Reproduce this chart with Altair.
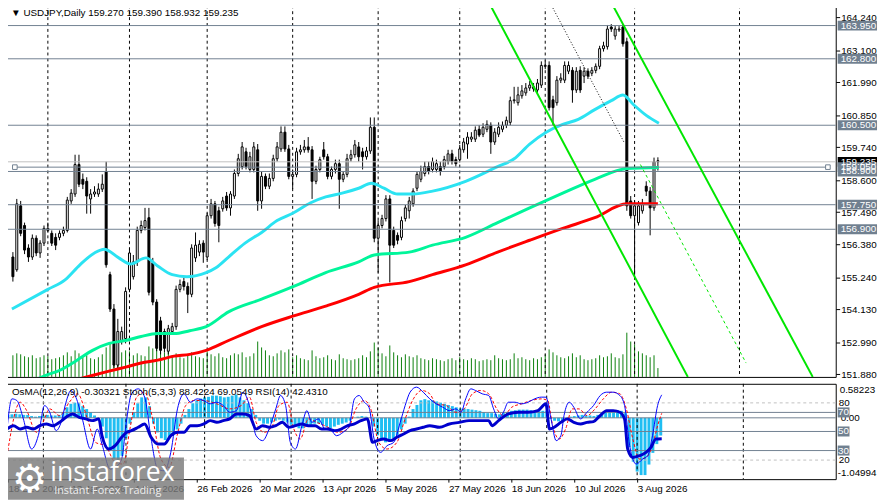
import json
import altair as alt
import pandas as pd

FONT = "Liberation Sans"
W, H1, H2 = 843, 378, 97
SLATE = "#708090"
LIGHT = "#C0C0C0"
CYAN = "#2BE3F2"
SPRING = "#00F59A"
RED = "#FF0000"
LIME = "#00E600"
VOLC = "#0A800A"
HIST = "#1FBEF2"

# ---------------- data ----------------
date_labels = ["18 Dec 2025", "13 Jan 2026", "4 Feb 2026", "26 Feb 2026", "20 Mar 2026",
               "13 Apr 2026", "5 May 2026", "27 May 2026", "18 Jun 2026", "10 Jul 2026", "3 Aug 2026"]
date_label_bars = [0, 16, 32, 48, 64, 80, 96, 112, 128, 144, 160]
grid_bars = [9, 30, 50, 72, 94, 115, 137, 160, 187]

price_ticks = [164.240, 163.100, 161.990, 160.850, 159.740, 158.600, 157.490,
               156.380, 155.240, 154.130, 152.990, 151.880]
level_prices = [163.950, 162.800, 160.500, 158.900, 157.750, 156.900]
trend_level = 159.050
bid_price = 159.235

opens = [155.94,155.50,157.71,157.03,156.25,155.94,156.59,156.08,156.42,156.86,
         156.76,156.62,156.62,156.76,156.86,157.88,158.12,159.14,158.63,158.56,
         157.95,158.12,158.12,158.29,158.90,155.33,154.14,152.20,153.05,153.12,
         154.82,155.26,155.77,156.86,156.96,157.30,155.74,154.38,153.73,153.36,
         152.68,153.36,153.53,154.82,155.09,154.92,154.65,155.91,156.11,156.42,
         155.94,157.37,157.78,157.54,157.61,158.05,157.64,158.05,158.83,159.07,
         159.58,158.97,158.97,159.65,157.88,158.73,158.39,158.66,159.34,159.68,
         160.26,159.68,158.73,158.80,159.58,159.65,159.75,159.65,158.56,158.97,
         159.65,159.41,158.73,158.97,159.17,158.63,158.80,159.34,159.48,159.75,
         159.58,159.41,159.61,160.43,156.59,157.03,157.27,157.95,156.86,156.69,
         156.62,157.27,157.54,157.78,158.32,158.63,158.83,159.07,158.97,158.97,
         159.07,159.07,159.24,159.51,159.31,159.31,159.65,159.85,160.02,160.02,
         160.36,160.19,160.36,160.50,159.92,160.19,160.36,160.50,160.60,161.35,
         161.28,161.52,161.62,161.79,161.76,161.72,161.89,162.54,162.57,161.38,
         161.28,162.06,162.06,162.37,162.40,161.72,162.40,162.20,162.37,162.30,
         162.40,162.54,163.15,163.22,163.90,163.59,163.80,163.90,163.39,157.88,
         157.37,157.13,157.54,158.39,158.22,157.64,159.270]
highs = [156.11,157.95,157.88,157.13,156.38,156.72,156.69,156.52,157.03,157.13,
         156.86,156.76,156.86,156.99,158.02,158.29,159.48,159.48,158.83,158.70,
         158.29,158.39,158.49,158.80,159.24,155.43,154.31,153.80,153.53,154.89,
         156.25,156.01,156.99,157.20,157.64,157.64,155.91,154.48,153.87,153.46,
         153.59,153.66,154.95,155.16,155.23,155.06,156.38,156.79,156.52,156.52,
         157.47,157.95,157.88,157.68,158.02,158.19,158.22,158.97,159.51,159.92,
         159.72,159.58,159.92,159.85,158.90,158.83,158.83,159.48,159.92,160.46,
         160.46,159.82,158.97,159.72,159.82,159.99,160.09,159.78,159.10,159.41,
         159.92,159.51,159.07,159.31,159.31,158.90,159.51,159.65,159.99,159.92,
         159.72,159.75,160.77,160.77,157.20,157.40,158.08,158.08,156.99,156.79,
         157.34,157.74,158.02,158.32,158.90,159.10,159.24,159.24,159.38,159.31,
         159.24,159.44,159.65,159.65,159.41,159.82,160.06,160.26,160.26,160.46,
         160.50,160.57,160.67,160.60,160.40,160.60,160.63,160.80,161.49,161.83,
         161.83,161.89,161.96,162.03,161.96,162.10,162.71,162.74,162.71,161.52,
         162.20,162.30,162.71,162.71,162.51,162.51,162.54,162.51,162.47,162.51,
         162.64,163.25,163.39,163.97,164.00,163.93,163.93,164.00,163.53,158.05,
         157.88,157.88,157.95,158.56,158.36,159.38,159.390]
lows = [155.09,155.43,156.66,156.04,155.77,155.84,155.97,155.91,156.32,156.79,
        156.32,156.18,156.52,156.66,156.79,157.78,158.02,158.36,158.29,157.44,
        157.44,158.02,158.02,158.19,155.57,154.04,152.10,152.03,152.91,152.95,
        154.72,155.16,155.63,156.76,156.86,154.61,154.27,152.68,152.57,152.64,
        152.57,153.25,153.42,154.72,154.78,154.00,154.55,155.77,155.97,155.74,
        155.84,157.27,156.99,156.45,157.51,157.54,157.37,157.95,158.73,158.97,
        158.97,158.87,158.87,157.54,157.61,158.29,158.29,158.56,159.24,159.58,
        159.58,158.63,158.29,158.70,159.48,159.55,159.55,157.95,158.46,158.87,
        159.31,158.63,158.63,158.83,157.61,158.53,158.70,159.24,159.38,159.24,
        158.97,159.31,159.51,156.45,155.40,156.93,157.17,155.06,156.25,156.38,
        156.52,157.17,157.27,157.68,158.22,158.53,158.73,158.80,158.87,158.87,
        158.76,158.97,159.14,159.14,159.07,159.21,159.55,159.34,159.92,159.92,
        160.09,160.09,160.26,159.51,159.82,160.09,160.26,160.40,160.50,161.25,
        161.18,161.42,161.52,161.69,161.66,161.62,161.79,162.44,161.01,160.50,
        161.18,161.96,161.96,162.27,161.28,161.62,161.62,161.96,162.10,162.20,
        162.30,162.44,163.05,163.12,163.73,163.46,163.73,163.22,157.54,157.27,
        155.16,157.03,157.44,158.05,156.69,157.54,158.932]
closes = [155.26,157.78,156.76,156.18,155.94,156.59,156.08,156.42,156.93,156.93,
          156.42,156.35,156.76,156.86,157.91,158.15,159.14,158.46,158.46,158.05,
          158.12,158.19,158.29,158.46,155.67,154.14,152.20,153.36,153.36,154.75,
          156.08,155.77,156.86,157.03,157.20,154.72,154.38,152.78,152.71,152.78,
          153.46,153.53,154.82,154.99,154.92,154.65,156.25,156.35,156.38,156.11,
          157.37,157.78,157.10,157.03,157.88,157.64,158.12,158.83,159.34,159.75,
          159.07,159.41,159.75,157.88,158.73,158.39,158.66,159.34,159.75,160.26,
          159.68,158.73,158.80,159.58,159.65,159.75,159.65,158.56,158.97,159.31,
          159.41,158.73,158.97,159.17,158.63,158.80,159.34,159.48,159.82,159.41,
          159.41,159.61,160.43,156.59,157.03,157.27,157.95,156.35,156.35,156.52,
          157.20,157.64,157.88,158.22,158.80,158.90,159.07,158.90,159.24,159.17,
          158.90,159.31,159.51,159.24,159.17,159.68,159.92,160.09,160.09,160.33,
          160.16,160.43,160.53,159.92,160.26,160.43,160.50,160.67,161.35,161.38,
          161.55,161.69,161.79,161.89,161.83,161.96,162.57,162.57,161.11,161.11,
          162.06,162.13,162.57,162.57,161.72,162.37,161.72,162.37,162.20,162.40,
          162.54,163.15,163.25,163.83,163.83,163.83,163.83,163.32,157.71,157.37,
          157.71,157.71,157.78,158.22,157.64,159.24,159.235]
volumes = [22,24,23,21,20,22,19,20,22,21,
           18,19,20,22,25,21,27,24,20,22,
           19,18,20,23,30,34,36,30,25,27,
           26,22,24,22,21,31,29,30,27,25,
           26,22,24,20,19,22,25,21,20,19,
           26,23,21,24,20,19,22,24,23,25,
           20,21,24,36,30,27,22,21,24,27,
           25,28,20,22,19,18,17,27,21,19,
           20,22,18,17,23,19,18,17,18,19,
           22,20,26,35,30,24,21,32,25,22,
           20,23,21,20,22,19,18,17,19,18,
           17,16,18,19,17,20,18,17,19,18,
           16,17,18,17,22,19,18,17,18,24,
           19,20,18,17,19,18,20,23,28,25,
           22,20,19,21,24,20,22,18,17,18,
           19,22,20,21,24,20,19,23,45,36,
           33,26,24,22,20,22,9]
osma = [0.05,0.06,0.07,0.06,0.05,0.05,
        0.03,0.02,
        0.03,0.04,0.05,0.04,0.04,0.05,
        0.10,0.18,0.24,0.26,0.25,0.20,0.15,0.10,
        0.04,-0.04,
        -0.15,-0.35,-0.55,-0.70,-0.75,-0.65,
        -0.35,-0.10,
        0.10,0.25,0.35,0.35,0.20,
        -0.10,-0.25,-0.35,-0.38,-0.35,-0.30,
        -0.20,-0.10,
        0.05,0.15,0.25,0.30,0.33,0.35,0.36,0.38,0.38,0.37,0.35,0.36,0.38,0.40,0.35,
        0.30,0.25,0.15,0.05,
        -0.05,-0.10,-0.10,-0.08,-0.05,-0.03,-0.05,-0.08,
        -0.12,-0.15,-0.18,-0.18,-0.15,-0.12,-0.10,-0.10,-0.12,-0.15,-0.18,-0.15,-0.12,-0.10,-0.08,-0.05,
        0.00,0.02,0.03,0.02,0.00,
        -0.15,-0.30,-0.38,-0.42,-0.40,-0.35,-0.30,
        -0.20,-0.10,0.02,
        0.15,0.22,0.30,0.32,0.30,
        0.30,0.28,0.26,0.24,0.22,0.20,0.18,
        0.16,0.16,0.15,0.14,0.13,0.12,0.10,
        0.08,0.08,0.07,0.06,0.08,0.10,0.12,
        0.13,0.14,0.14,0.14,0.13,0.12,0.12,0.12,0.12,
        -0.02,-0.05,-0.06,-0.05,-0.03,
        0.02,0.03,0.04,0.05,0.04,0.04,0.03,0.05,
        0.08,0.10,0.12,0.13,0.13,
        0.12,0.08,
        -0.50,-0.75,-0.92,-0.98,-0.98,-0.80,-0.60,-0.45,-0.30321]

cyan_i = [-0.25,9,13.5,17.25,21,23.5,27.25,30.25,34.25,37.25,
          41,44.75,49.75,52.25,55.5,59.75,64,68,72.25,76.5,
          80.5,84.75,89,92.25,95.5,99,103,108,116.5,124.75,
          129,133,137.25,141.5,145.5,149.75,154,157,159.75,163,166.25]
cyan_p = [154.14,154.82,155.16,155.67,156.08,156.21,155.91,155.70,155.91,155.63,
          155.33,155.26,155.40,155.57,155.94,156.42,156.79,157.20,157.47,157.81,
          158.02,158.15,158.32,158.49,158.32,158.12,158.12,158.22,158.56,159.07,
          159.34,159.85,160.26,160.53,160.70,161.04,161.35,161.55,161.21,160.84,160.57]
spring_i = [6,8,12.25,16.5,20.5,24.75,29,33,37.25,41.5,
            45.5,49.75,55.5,64,72.25,80.5,89,93,102,108,
            116.5,124.75,133,141.5,149.75,158,166.25]
spring_p = [151.70,151.82,152.03,152.37,152.71,152.95,153.05,153.19,153.29,153.29,
            153.39,153.53,154.04,154.48,154.92,155.40,155.77,156.01,156.11,156.35,
            156.62,157.13,157.64,158.15,158.63,159.00,159.04]
red_i = [17,19,24.75,29,33,37.25,41.5,45.5,49.75,55.5,
         64,72.25,80.5,89,93,102,108,116.5,124.75,133,
         141.5,149.75,158,166]
red_p = [151.72,151.79,151.99,152.13,152.27,152.37,152.51,152.57,152.71,153.05,
         153.53,153.90,154.24,154.65,154.89,155.09,155.33,155.67,156.11,156.52,
         156.93,157.30,157.78,157.78]

channel_seg = ["A", "A", "B", "B"]
channel_i = [122.9, 173.7, 154.4, 205.85]
channel_p = [164.65, 151.79, 164.65, 151.79]
mid_dotted_i = [138.6, 157.25]
mid_dotted_p = [164.65, 159.92]
mid_dashed_i = [161.5, 188.7]
mid_dashed_p = [159.14, 152.27]

sm_i = [-0.25,1,2.25,3.9,6,7.7,9.3,10.6,12.25,13.5,
        14.75,16,17.25,18.9,21,22.7,23.9,26,27.25,28.9,
        30.2,31.4,33.1,34.75,36.4,38.1,39.75,41.4,43.1,44.75,
        46.4,48.1,49.75,51.4,53.1,54.75,56.4,58.1,59.75,61.4,
        63.1,64.75,66.4,68.1,69.3,70.6,71.8,73.1,74.75,76,
        77.25,78.9,80.6,82.25,83.5,85.2,86.8,88.1,89.3,90.6,
        91.8,93.1,94.75,96.4,98.1,99.75,101,102.25,103.9,105.6,
        107.25,108.9,110.6,112.25,113.9,115.2,116.4,117.7,118.9,120.6,
        122.25,123.5,124.75,126,127.25,128.9,130.6,132.25,133.9,135.6,
        136.8,138.1,139.4,140.6,141.4,142.75,143.9,145.6,147.25,148.9,
        150.6,152.25,153.9,155.6,156.8,158.1,159.75,161.4,162.7,163.9,
        165.2,166.25]
sm_v = [52.6,84.2,82.5,63.2,31.6,45.6,77.2,70.2,50.9,59.6,
        80.7,93.0,86.0,63.2,31.6,52.6,36.8,10.5,12.3,21.1,
        63.2,89.5,94.7,86.0,42.1,10.5,8.8,28.1,73.7,89.5,
        80.7,84.2,82.5,79.0,80.7,77.2,70.2,71.9,91.2,77.2,
        45.6,40.4,52.6,73.7,87.7,77.2,38.6,31.6,56.1,71.9,
        59.6,63.2,52.6,50.9,45.6,49.1,56.1,84.2,87.7,80.7,
        75.4,42.1,28.1,35.1,38.6,59.6,77.2,91.2,96.5,91.2,
        84.2,79.0,75.4,71.9,73.7,70.2,84.2,94.7,93.0,89.5,
        87.7,73.7,63.2,70.2,80.7,80.7,79.0,80.7,84.2,86.0,
        86.0,63.2,40.4,45.6,66.7,80.7,75.4,63.2,70.2,77.2,
        87.7,91.2,91.2,87.7,77.2,35.1,15.8,21.1,24.6,45.6,
        77.2,88.4224]
ss_i = [-0.25,3.1,4.75,7.25,8.9,10.6,13.1,15.6,17.7,20.2,
        22.25,24.75,27.25,29.3,31,32.7,34.75,36.8,38.9,41,
        43.1,45.2,47.25,49.75,53.1,56.4,59.3,61.4,63.1,65.2,
        67.25,68.9,71,72.7,74.3,76.4,78.5,81.4,83.9,86.4,
        88.5,90.6,92.25,94.3,96.4,98.9,101,103.1,105.2,107.25,
        108.9,111.4,113.9,116,118.1,120.2,122.25,124.3,126,128.1,
        130.6,133.1,135.6,137.25,138.5,140.2,141.8,143.5,145.2,147.25,
        149.3,151.4,153.5,155.6,157.25,158.9,160.6,162.25,163.9,165.2,
        166.25]
ss_v = [24.6,80.7,71.9,49.1,59.6,73.7,66.7,80.7,89.5,63.2,
        38.6,35.1,17.5,15.8,52.6,86.0,91.2,63.2,21.1,12.3,
        47.4,77.2,82.5,82.5,79.0,73.7,77.2,86.0,59.6,49.1,
        56.1,77.2,80.7,52.6,42.1,63.2,59.6,54.4,49.1,52.6,
        73.7,82.5,73.7,38.6,31.6,38.6,63.2,84.2,93.0,89.5,
        79.0,77.2,70.2,73.7,89.5,93.0,89.5,73.7,66.7,75.4,
        79.0,82.5,84.2,82.5,56.1,42.1,52.6,73.7,73.7,66.7,
        73.7,84.2,91.2,89.5,73.7,42.1,21.1,22.8,35.1,56.1,
        69.0549]
rsi_i = [-0.25,1.4,3.1,4.75,6.4,8.1,9.75,11.4,13.1,14.75,
         16.4,18.1,19.75,21.4,23.1,23.9,25.6,27.25,28.9,30.2,
         31.4,33.1,34.75,36.4,38.1,39.75,41.4,43.1,44.75,46.4,
         48.1,49.75,51.4,53.1,54.75,56.4,58.1,59.75,61.4,63.1,
         64.75,66.4,68.1,69.75,71.4,73.1,74.75,76.4,78.1,79.75,
         81.4,83.1,84.75,86.4,88.1,89.75,91.4,92.7,93.9,95.6,
         97.25,98.9,100.6,102.25,103.9,105.6,107.25,109.75,112.25,114.75,
         117.25,119.75,122.25,123.1,124.75,127.25,129.75,132.25,134.75,136.8,
         137.7,138.9,140.6,142.25,143.9,145.6,147.25,148.9,150.6,152.25,
         153.9,155.6,156.8,157.6,158.9,160.6,162.25,163.5,164.75,166.25]
rsi_v = [52.6,56.1,52.6,54.4,52.6,56.1,57.9,56.1,59.6,64.9,
         68.4,64.9,63.2,61.4,63.2,45.6,31.6,35.1,43.9,49.1,
         50.9,54.4,57.9,43.9,36.8,36.8,45.6,49.1,49.1,56.1,
         56.1,57.9,61.4,59.6,61.4,63.2,68.4,68.4,66.7,52.6,
         56.1,54.4,56.1,59.6,54.4,56.1,57.9,56.1,56.1,52.6,
         52.6,50.9,52.6,56.1,57.9,61.4,63.2,38.6,40.4,42.1,
         40.4,43.9,47.4,50.9,52.6,54.4,56.1,54.4,57.9,59.6,
         61.4,61.4,61.4,56.1,61.4,68.4,70.2,70.2,71.9,79.0,
         52.6,54.4,59.6,63.2,59.6,57.9,59.6,60.4,66.7,71.9,
         71.9,70.2,63.2,31.6,22.8,24.6,28.1,33.3,42.1,42.431]

osma_range = [-1.04994, 0.58223]
stoch_levels = [80, 20]
rsi_levels = [70, 50, 30]

# ---------------- tables ----------------
bars = pd.DataFrame({"i": list(range(len(closes))), "o": opens, "h": highs, "l": lows,
                     "c": closes, "vol": volumes, "osma": osma})

xscale = alt.Scale(domain=[-0.25, 210.5], nice=False, zero=False)
pscale = alt.Scale(domain=[151.79, 164.65], nice=False, zero=False)
oscale = alt.Scale(domain=[0, 100], nice=False, zero=False)
mscale = alt.Scale(domain=osma_range, nice=False, zero=False)


def X(f):
    return alt.X(f, type="quantitative", scale=xscale, axis=None)


def P(f):
    return alt.Y(f, type="quantitative", scale=pscale, axis=None)


def O(f):
    return alt.Y(f, type="quantitative", scale=oscale, axis=None)


def M(f):
    return alt.Y(f, type="quantitative", scale=mscale, axis=None)


BOX_WIDE = "M-1,-0.25H1V0.25H-1Z"
BOX_SMALL = "M-1,-0.85H1V0.85H-1Z"

# ---------------- main panel ----------------
vol = alt.Chart(bars).mark_rule(color=VOLC, strokeWidth=1).encode(
    x=X("i"),
    y=alt.Y("vol:Q", scale=alt.Scale(domain=[0, H1], nice=False, zero=True), axis=None),
    y2=alt.datum(0))

grid_df = pd.DataFrame({"g": grid_bars})
grid_top = alt.Chart(grid_df).mark_rule(color="black", strokeDash=[3, 3], strokeWidth=1).encode(x=X("g"))

price_axis = alt.Axis(orient="right", values=price_ticks, format=".3f", tickSize=4,
                      tickColor="black", labelColor="black", labelFont=FONT, labelFontSize=10,
                      labelPadding=1, domain=False, grid=False, title=None,
                      labelOverlap=False, labelFlush=False)

wicks = alt.Chart(bars).mark_rule(color="black", strokeWidth=1, clip=True).encode(
    x=X("i"), y=alt.Y("l:Q", scale=pscale, axis=price_axis), y2="h")
bodies = alt.Chart(bars).transform_calculate(
    dir="datum.c >= datum.o ? 'up' : 'down'"
).mark_bar(size=2, stroke="black", strokeWidth=1, clip=True).encode(
    x=X("i"), y=P("o"), y2="c",
    fill=alt.Fill("dir:N", scale=alt.Scale(domain=["up", "down"], range=["white", "black"]), legend=None))


def ma_layer(ii, pp, color):
    df = pd.DataFrame({"i": ii, "p": pp})
    return alt.Chart(df).mark_line(color=color, strokeWidth=3, interpolate="monotone", clip=True).encode(
        x=X("i"), y=P("p"))


ma_cyan = ma_layer(cyan_i, cyan_p, CYAN)
ma_spring = ma_layer(spring_i, spring_p, SPRING)
ma_red = ma_layer(red_i, red_p, RED)

levels = alt.Chart(pd.DataFrame({"p": level_prices})).mark_rule(color=SLATE, strokeWidth=1).encode(y=P("p"))
bid = alt.Chart(pd.DataFrame({"p": [bid_price]})).mark_rule(color=LIGHT, strokeWidth=1).encode(y=P("p"))
tl_df = pd.DataFrame({"a": [0.5], "b": [209.75], "p": [trend_level]})
tline = alt.Chart(tl_df).mark_rule(color=SLATE, strokeWidth=1).encode(x=X("a"), x2="b", y=P("p"))
tl_pts = alt.Chart(pd.DataFrame({"i": [0.5, 209.75], "p": [trend_level, trend_level]})).mark_square(
    size=22, color="white", stroke=SLATE, strokeWidth=1, opacity=1).encode(x=X("i"), y=P("p"))

chan = alt.Chart(pd.DataFrame({"s": channel_seg, "i": channel_i, "p": channel_p})).mark_line(
    color=LIME, strokeWidth=2, clip=True).encode(x=X("i"), y=P("p"), detail="s:N")
dotted = alt.Chart(pd.DataFrame({"i": mid_dotted_i, "p": mid_dotted_p})).mark_line(
    color="black", strokeWidth=1, strokeDash=[1, 2], clip=True).encode(x=X("i"), y=P("p"))
dashed = alt.Chart(pd.DataFrame({"i": mid_dashed_i, "p": mid_dashed_p})).mark_line(
    color=LIME, strokeWidth=1, strokeDash=[3, 3], clip=True).encode(x=X("i"), y=P("p"))

box_p = [bid_price] + level_prices + [trend_level]
box_t = [f"{v:.3f}" for v in box_p]
box_c = ["black"] + [SLATE] * len(level_prices) + [SLATE]
boxes_df = pd.DataFrame({"p": box_p, "t": box_t, "bg": box_c, "k": list(range(len(box_p)))})
box_marks = alt.Chart(boxes_df).mark_point(shape=BOX_WIDE, size=1600, filled=True, opacity=1, strokeWidth=0).encode(
    x=alt.value(W + 22), y=P("p"), color=alt.Color("bg:N", scale=None), order="k:Q")
box_text = alt.Chart(boxes_df).mark_text(align="left", baseline="middle", font=FONT, fontSize=10, color="white").encode(
    x=alt.value(W + 5), y=P("p"), text="t:N", order="k:Q")

title_str = "\u25bc USDJPY,Daily  " + " ".join(f"{v:.3f}" for v in [opens[-1], highs[-1], lows[-1], closes[-1]])
title_top = alt.Chart(pd.DataFrame({"t": [title_str]})).mark_text(
    align="left", baseline="middle", font=FONT, fontSize=10, color="black").encode(
    x=alt.value(4), y=alt.value(8), text="t:N")

price_group = alt.layer(grid_top, wicks, bodies, ma_spring, ma_red, ma_cyan, bid, levels, tline, tl_pts,
                        chan, dotted, dashed, box_marks, box_text, title_top).resolve_axis(y="independent")
top = alt.layer(vol, price_group).resolve_scale(y="independent").properties(width=W, height=H1)

# ---------------- indicator panel ----------------
hist = alt.Chart(bars).mark_rule(strokeWidth=3, color=HIST).encode(x=X("i"), y=M("osma"), y2=alt.datum(0))
zero_line = alt.Chart(pd.DataFrame({"v": [0.0]})).mark_rule(color=SLATE, strokeWidth=1).encode(y=M("v"))
lab_top = alt.Chart(pd.DataFrame({"v": [osma_range[1]], "t": [f"{osma_range[1]:.5f}"]})).mark_text(
    align="left", baseline="top", font=FONT, fontSize=10, color="black", dy=1).encode(
    x=alt.value(W + 4), y=M("v"), text="t:N")
lab_zero = alt.Chart(pd.DataFrame({"v": [0.0], "t": ["0.00"]})).mark_text(
    align="left", baseline="middle", font=FONT, fontSize=10, color="black").encode(
    x=alt.value(W + 5), y=M("v"), text="t:N")
lab_bot = alt.Chart(pd.DataFrame({"v": [osma_range[0]], "t": [f"{osma_range[0]:.5f}"]})).mark_text(
    align="left", baseline="bottom", font=FONT, fontSize=10, color="black", dy=-1).encode(
    x=alt.value(W + 2), y=M("v"), text="t:N")
osma_group = alt.layer(hist, zero_line, lab_top, lab_zero, lab_bot)

grid_bot = alt.Chart(grid_df).mark_rule(color="black", strokeDash=[3, 3], strokeWidth=1).encode(x=X("g"))
st_lv = alt.Chart(pd.DataFrame({"v": stoch_levels})).mark_rule(color=LIGHT, strokeDash=[3, 3], strokeWidth=1).encode(y=O("v"))
rsi_lv = alt.Chart(pd.DataFrame({"v": rsi_levels})).mark_rule(color=SLATE, strokeWidth=1).encode(y=O("v"))
sig = alt.Chart(pd.DataFrame({"i": ss_i, "v": ss_v})).mark_line(
    color=RED, strokeWidth=1, strokeDash=[3, 2], interpolate="monotone").encode(x=X("i"), y=O("v"))
smain = alt.Chart(pd.DataFrame({"i": sm_i, "v": sm_v})).mark_line(
    color="#0000FF", strokeWidth=1, interpolate="monotone").encode(x=X("i"), y=O("v"))

date_axis = alt.Axis(orient="bottom", values=date_label_bars,
                     labelExpr=f"{json.dumps(date_labels)}[indexof({json.dumps(date_label_bars)}, datum.value)]",
                     labelAlign="left", labelFont=FONT, labelFontSize=10, labelColor="black",
                     tickSize=3, tickColor="black", domain=False, grid=False, title=None,
                     labelPadding=2, labelFlush=False, labelOverlap=False)
rsi = alt.Chart(pd.DataFrame({"i": rsi_i, "v": rsi_v})).mark_line(
    color="#0000CD", strokeWidth=3, interpolate="monotone").encode(
    x=alt.X("i:Q", scale=xscale, axis=date_axis), y=O("v"))

st_lab = alt.Chart(pd.DataFrame({"v": stoch_levels, "t": [str(v) for v in stoch_levels]})).mark_text(
    align="left", baseline="middle", font=FONT, fontSize=10, color="black").encode(
    x=alt.value(W + 3), y=O("v"), text="t:N")
rsi_box = alt.Chart(pd.DataFrame({"v": rsi_levels})).mark_point(
    shape=BOX_SMALL, size=144, filled=True, opacity=1, color=SLATE, strokeWidth=0).encode(
    x=alt.value(W + 8), y=O("v"))
rsi_lab = alt.Chart(pd.DataFrame({"v": rsi_levels, "t": [str(v) for v in rsi_levels]})).mark_text(
    align="center", baseline="middle", font=FONT, fontSize=10, color="white").encode(
    x=alt.value(W + 8), y=O("v"), text="t:N")

ind_title = (f"OsMA(12,26,9) {osma[-1]:.5f}  Stoch(5,3,3) {sm_v[-1]:.4f} {ss_v[-1]:.4f}  "
             f"RSI(14) {rsi_v[-1]:.4f}")
title_bot = alt.Chart(pd.DataFrame({"t": [ind_title]})).mark_text(
    align="left", baseline="middle", font=FONT, fontSize=10, color="black").encode(
    x=alt.value(5), y=alt.value(8), text="t:N")

wm_df = pd.DataFrame({"k": [0]})
wm_rect = alt.Chart(wm_df).mark_rect(color="#7A7A7A", opacity=0.82).encode(
    x=alt.value(0), x2=alt.value(180), y=alt.value(H2 - 22), y2=alt.value(H2 + 21))
wm_gear = alt.Chart(pd.DataFrame({"t": ["\u2699"]})).mark_text(
    align="left", baseline="middle", font="DejaVu Sans", fontSize=40, color="white").encode(
    x=alt.value(5), y=alt.value(H2 + 1), text="t:N")
wm_name = alt.Chart(pd.DataFrame({"t": ["instaforex"]})).mark_text(
    align="left", baseline="alphabetic", font="Open Sans", fontSize=27, color="white").encode(
    x=alt.value(44), y=alt.value(H2 + 2), text="t:N")
wm_sub = alt.Chart(pd.DataFrame({"t": ["Instant Forex Trading"]})).mark_text(
    align="left", baseline="alphabetic", font="Open Sans", fontSize=11, color="#EEEEEE").encode(
    x=alt.value(48), y=alt.value(H2 + 15), text="t:N")

osc_group = alt.layer(grid_bot, st_lv, rsi_lv, sig, smain, rsi, st_lab, rsi_box, rsi_lab, title_bot,
                      wm_rect, wm_gear, wm_name, wm_sub).resolve_axis(x="independent")
bottom = alt.layer(osma_group, osc_group).resolve_scale(y="independent").resolve_axis(
    x="independent").properties(width=W, height=H2)

chart = alt.vconcat(top, bottom, spacing=3).properties(
    padding={"left": -8, "top": -8, "right": 0, "bottom": 0}, background="white"
).configure_view(stroke="black", strokeWidth=1)

chart.save("out.html", embed_options={"renderer": "svg", "actions": False})
